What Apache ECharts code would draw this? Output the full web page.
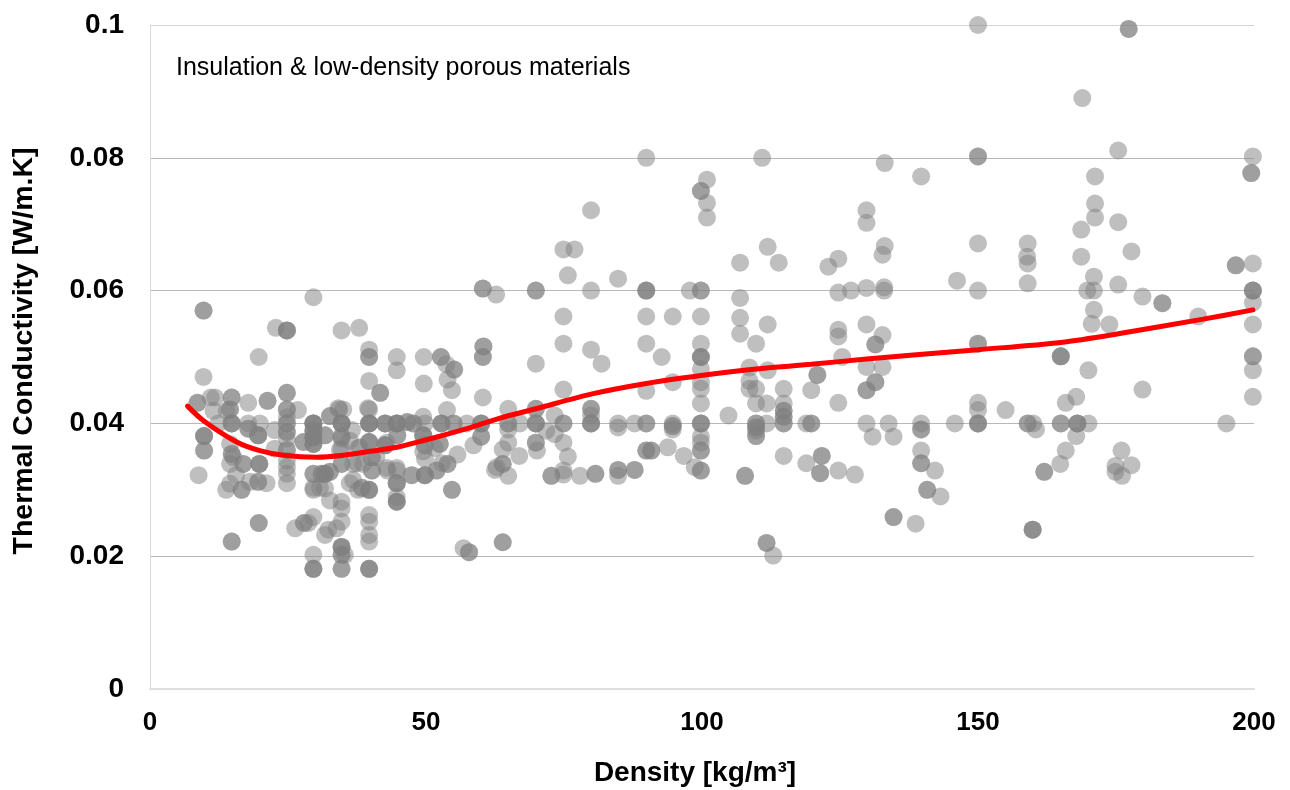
<!DOCTYPE html>
<html><head><meta charset="utf-8">
<style>html,body{margin:0;padding:0;background:#fff}#c{width:1290px;height:790px}</style>
<script src="https://cdn.jsdelivr.net/npm/echarts@6/dist/echarts.min.js"></script>
</head><body><div id="c"></div>
<script>
// each sample: [density, conductivity, number of coincident samples]
const samplesLow = [
[9.7,.057,2],[22.8,.0544,1],[24.8,.054,3],[29.6,.059,1],[34.7,.054,1],[37.9,.0544,1],[19.7,.05,1],[9.7,.047,1],[39.7,.0511,1],[39.7,.05,2],[44.7,.05,1],[44.7,.048,1],[49.6,.05,1],[52.7,.05,2],[53.7,.0489,1],[55.1,.0481,2],[39.7,.0464,1],[41.7,.0446,2],[49.6,.046,1],[53.9,.0466,1],[54.7,.045,1],
[8.6,.0431,2],[11,.0439,1],[11.8,.0439,1],[14.8,.0439,2],[17.8,.0431,1],[21.3,.0434,2],[24.8,.0446,2],[11.5,.0419,1],[13.9,.0419,1],[14.5,.0421,2],[24.8,.0421,2],[26.8,.042,1],[24.8,.0409,1],[14.8,.04,3],[17.8,.04,1],[19.9,.04,1],[12.4,.04,1],[9.8,.0381,3],[9.8,.0359,2],[8.8,.0322,1],[17.8,.0392,2],[19.6,.0382,3],[22.6,.039,1],[14.5,.0369,1],[14.8,.0354,2],[15.1,.0349,1],[14.5,.0339,1],[16.9,.0339,2],[19.8,.0339,3],[22.6,.0362,1],[15.6,.0322,1],[13.8,.03,1],[14.5,.0309,1],[16.6,.03,2],[18.1,.0312,1],[19.6,.0312,2],[21.1,.031,1],[19.7,.025,2],[14.8,.0222,2],
[24.8,.04,2],[24.8,.0387,2],[24.8,.0377,1],[24.8,.036,2],[24.8,.0344,1],[24.8,.0334,1],[24.8,.0324,1],[24.8,.031,1],[26.3,.0242,1],[27.9,.025,2],[28.7,.025,1],[29.6,.0259,1],[29.6,.04,4],[29.6,.0389,3],[29.6,.0379,3],[29.6,.0369,3],[27.8,.0372,2],[31.7,.0382,2],[29.6,.0324,2],[29.6,.0303,1],[29.6,.03,1],[29.6,.0202,1],[29.6,.0181,3],[31.7,.0232,1],[32.3,.024,1],[33.8,.0242,1],[34.7,.0252,1],[34.7,.0272,1],[34.7,.0282,1],[34.7,.0214,3],[34.7,.0202,2],[35.3,.0202,1],[34.7,.0181,2],[32.6,.0284,1],[31.7,.0324,3],[32.6,.0327,2],[31.1,.0324,2],[31.7,.0302,1],[30.8,.0303,1],[32.6,.0411,2],[34.3,.0421,1],[35,.0421,1],[34.1,.0423,1],[34.7,.04,4],[34.7,.038,2],[34.7,.0377,1],[34.4,.036,1],[34.7,.0362,1],[34.7,.0339,2],[36.2,.031,1],[36.8,.0315,1],[37.7,.03,1],[38.4,.0303,2],[39.7,.03,3],[39.7,.0421,1],[39.5,.0423,1],[39.7,.04,4],[39.7,.0372,3],[38.6,.0339,1],[40.2,.0349,2],[40.2,.0329,2],[39.7,.0262,1],[39.7,.0252,1],[39.7,.0232,1],[39.7,.0222,1],[39.7,.0181,3],[36.8,.0339,1],[38,.0364,1],[36.2,.0374,1],[36.6,.039,1],[37.7,.0363,1],[37.5,.034,1],[41,.0349,1],
[42.6,.04,3],[44.7,.04,4],[46.6,.0402,2],[47.7,.04,2],[49.8,.04,1],[49.5,.041,1],[52.8,.04,3],[53.8,.042,1],[55,.04,2],[57.4,.04,1],[44.8,.0382,2],[42.6,.0367,3],[42.9,.0371,1],[42.9,.0333,1],[44.7,.0333,1],[49.5,.0382,3],[49.8,.0367,2],[49.8,.0347,1],[49.5,.0358,1],[49.8,.0322,3],[47.4,.0322,2],[44.7,.0329,1],[43,.0329,1],[51.6,.0363,1],[52.9,.034,1],[51.9,.0329,2],[53.9,.0339,2],[55.7,.0353,1],[52.5,.0369,2],[58.6,.0367,1],[44.7,.031,3],[44.7,.0289,1],[44.7,.0282,3],[54.7,.03,2],[56.8,.0212,1],[57.8,.0206,2]
];
const samplesMid = [
[89.9,.08,1],[110.9,.08,1],[100.9,.0767,1],[99.8,.075,2],[100.9,.0732,1],[100.9,.071,1],[79.9,.0721,1],[129.8,.0721,1],[129.8,.0702,1],[74.9,.0662,1],[76.9,.0662,1],[75.7,.0623,1],[84.8,.0618,1],[111.9,.0666,1],[106.9,.0642,1],[113.9,.0642,1],[124.7,.0648,1],[122.9,.0636,1],[60.3,.0603,2],[62.7,.0594,1],[69.9,.06,2],[79.9,.06,1],[89.9,.06,3],[97.8,.06,1],[99.8,.06,2],[106.9,.0589,1],[124.7,.0597,1],[127,.06,1],[129.8,.0604,1],[74.9,.0561,1],[89.9,.0561,1],[94.7,.0561,1],[99.8,.0561,1],[106.9,.0559,1],[111.9,.0549,1],[106.9,.0535,1],[129.8,.0549,1],[124.7,.0541,1],[124.7,.0531,1],[60.4,.0516,2],[60.3,.05,2],[74.9,.052,1],[79.9,.0511,1],[81.8,.049,1],[89.9,.052,1],[92.7,.05,1],[99.8,.052,1],[99.8,.05,3],[109.8,.052,1],[69.9,.049,1],[131.4,.0519,2],[125.4,.05,1],[129.8,.0485,1],[108.6,.0484,1],[111.9,.048,1],[120.9,.0473,2],[94.7,.0462,1],[99.8,.0482,1],[99.8,.0462,1],[99.8,.0452,1],[99.8,.043,1],[108.6,.0464,1],[108.6,.0452,1],[109.8,.0452,1],[89.9,.0449,1],[74.9,.0451,1],[60.3,.0439,1],[129.8,.045,2],[131.4,.0462,2],[119.8,.045,1],[114.8,.0452,1],[114.8,.043,1],[114.8,.0419,2],[114.8,.041,2],[114.8,.04,2],[109.8,.043,1],[111.7,.043,1],[124.7,.0431,1],[104.8,.0412,1],
[79.9,.0422,2],[79.9,.0412,1],[79.9,.04,3],[69.9,.0422,2],[64.9,.0422,1],[73.3,.0412,1],[60,.04,3],[64.9,.04,2],[67,.04,1],[69.9,.04,3],[74.9,.04,2],[84.8,.04,1],[84.8,.0394,1],[87.8,.04,1],[89.9,.04,2],[94.7,.04,1],[94.7,.0396,2],[94.7,.0391,1],[99.8,.04,3],[109.8,.04,2],[109.8,.0394,2],[109.8,.0389,1],[109.8,.0381,2],[111.7,.04,1],[118.9,.04,1],[119.8,.04,2],[129.8,.04,1],[130.9,.038,1],[71.8,.0389,1],[73.3,.0384,1],[74.9,.0371,1],[69.9,.0371,2],[70.1,.0359,1],[64.9,.0391,1],[64.9,.0371,1],[63.9,.0361,1],[66.9,.0351,1],[75.7,.035,1],[60,.038,2],[62.8,.0334,1],[93.8,.0364,1],[89.9,.0359,2],[90.8,.0359,2],[96.7,.0351,1],[99.8,.038,1],[99.8,.0371,1],[99.8,.0359,2],[99.8,.0329,2],[98.7,.0334,1],[114.8,.0351,1],[118.9,.034,1],[121.7,.0351,2],[121.4,.0325,2],[124.7,.0329,1],[127.7,.0323,1],[107.8,.0321,2],[87.8,.033,2],[84.8,.033,2],[84.8,.0321,1],[80.7,.0324,2],[77.9,.0321,1],[74.9,.0329,1],[74.9,.0323,1],[72.7,.0321,2],[63.9,.0339,2],[62.5,.033,1],[64.9,.0321,1],[63.9,.0221,2],[111.7,.022,2],[112.9,.0201,1]
];
const samplesHigh = [
[150,.1,1],[177.3,.0994,2],[168.9,.089,1],[175.4,.0811,1],[150,.0802,2],[199.8,.0802,1],[199.5,.0777,2],[133.1,.0792,1],[139.7,.0772,1],[171.2,.0772,1],[171.2,.0731,1],[171.2,.071,1],[175.4,.0703,1],[168.7,.0692,1],[150,.0671,1],[159,.0671,1],[158.9,.0651,1],[159,.0641,1],[159,.0611,1],[133.1,.0667,1],[132.7,.0654,1],[168.7,.0651,1],[175.4,.0609,1],[177.8,.0659,1],[196.7,.0638,2],[199.8,.0641,1],[199.8,.06,3],[199.8,.0582,1],[199.8,.0549,1],[199.8,.0501,2],[199.8,.048,1],[199.8,.044,1],[195,.04,1],[189.9,.0561,1],[183.4,.0581,2],[179.8,.0591,1],[171,.0621,1],[171,.06,1],[169.8,.06,1],[171,.0571,1],[170.6,.055,1],[173.8,.0549,1],[146.2,.0615,1],[150,.06,1],[133,.0605,1],[133,.06,1],[132.7,.0533,1],[150,.052,2],[132.7,.0485,1],[165,.0501,3],[170,.048,1],[179.8,.0451,1],[167.8,.044,1],[165.9,.0431,1],[150,.0431,1],[150,.042,1],[155,.042,1],[150,.04,3],[145.8,.04,1],[139.7,.04,1],[139.7,.0391,2],[133.8,.04,1],[134.7,.038,1],[159,.04,2],[160,.04,1],[160.5,.0391,1],[165,.04,2],[168,.04,3],[170,.04,1],[167.8,.0381,1],[165.9,.0359,1],[164.9,.0339,1],[162,.0327,2],[159.9,.024,3],[139.7,.0359,1],[139.7,.034,2],[142.2,.0329,1],[140.8,.03,2],[143.2,.029,1],[134.7,.0259,2],[138.7,.0249,1],[176,.0359,1],[174.9,.0336,1],[174.9,.0327,1],[176.1,.0321,1],[177.8,.0337,1]
];
const trendDensity = [6.8,9.7,15.7,19.9,24.2,30.2,35,39.9,44.7,51.3,57.4,63.4,69.9,79.9,89.9,99.8,109.8,119.8,129.8,150,165,175.4,190.8,199.8];
const trendConductivity = [.0426,.0404,.0372,.0359,.0352,.0349,.0352,.0358,.0364,.0378,.0392,.0408,.0422,.0444,.046,.0472,.0482,.0489,.0497,.0511,.0522,.0535,.0557,.0571];
const yTicks = {0:'0',0.02:'0.02',0.04:'0.04',0.06:'0.06',0.08:'0.08',0.1:'0.1'};
const noteText = 'Insulation & low-density porous materials';
const xTitle = 'Density [kg/m³]';
const yTitle = 'Thermal Conductivity [W/m.K]';

const points = [];
[samplesLow, samplesMid, samplesHigh].forEach(list => list.forEach(s => {
  for (let i = 0; i < s[2]; i++) points.push([s[0], s[1]]);
}));
const font = '"Liberation Sans", Arial, sans-serif';
const chart = echarts.init(document.getElementById('c'), null, {renderer:'canvas'});
chart.setOption({
  animation:false,
  backgroundColor:'#fff',
  grid:{left:150, top:25, width:1104, height:664, containLabel:false},
  xAxis:{type:'value', min:0, max:200, interval:50,
    axisLine:{show:true, onZero:false, lineStyle:{color:'#dedede', width:2}},
    axisTick:{show:false}, splitLine:{show:false},
    axisLabel:{color:'#000', fontFamily:font, fontWeight:'bold', fontSize:26, margin:21}
  },
  yAxis:{type:'value', min:0, max:0.1, interval:0.02,
    axisLine:{show:true, lineStyle:{color:'#d9d9d9', width:1}},
    axisTick:{show:false},
    splitLine:{show:true, lineStyle:{color:['#dedede','#b8b8b8','#b8b8b8','#b8b8b8','#b8b8b8','#d4d4d4'], width:1}},
    axisLabel:{color:'#000', fontFamily:font, fontWeight:'bold', fontSize:28, margin:26,
      formatter:v => { const k = Math.round(v*100)/100; return yTicks[k] !== undefined ? yTicks[k] : ''; }}
  },
  graphic:[
    {type:'text', x:176, y:68, z:10, style:{text:noteText, fill:'#000', font:'25px '+font, textVerticalAlign:'middle'}},
    {type:'text', x:695, y:773, z:10, style:{text:xTitle, fill:'#000', font:'bold 28px '+font, textAlign:'center', textVerticalAlign:'middle'}},
    {type:'text', x:24, y:351, rotation:Math.PI/2, z:10, style:{text:yTitle, fill:'#000', font:'bold 28.5px '+font, textAlign:'center', textVerticalAlign:'middle'}}
  ],
  series:[
    {type:'scatter', data:points, symbol:'circle', symbolSize:18, clip:false,
     itemStyle:{color:'#7f7f7f', opacity:0.5, borderWidth:0}, z:2, silent:true},
    {type:'line', data:trendDensity.map((x,i)=>[x,trendConductivity[i]]), showSymbol:false, smooth:0.3,
     lineStyle:{color:'#ff0000', width:5, cap:'round'}, z:3, silent:true}
  ]
});
</script></body></html>
